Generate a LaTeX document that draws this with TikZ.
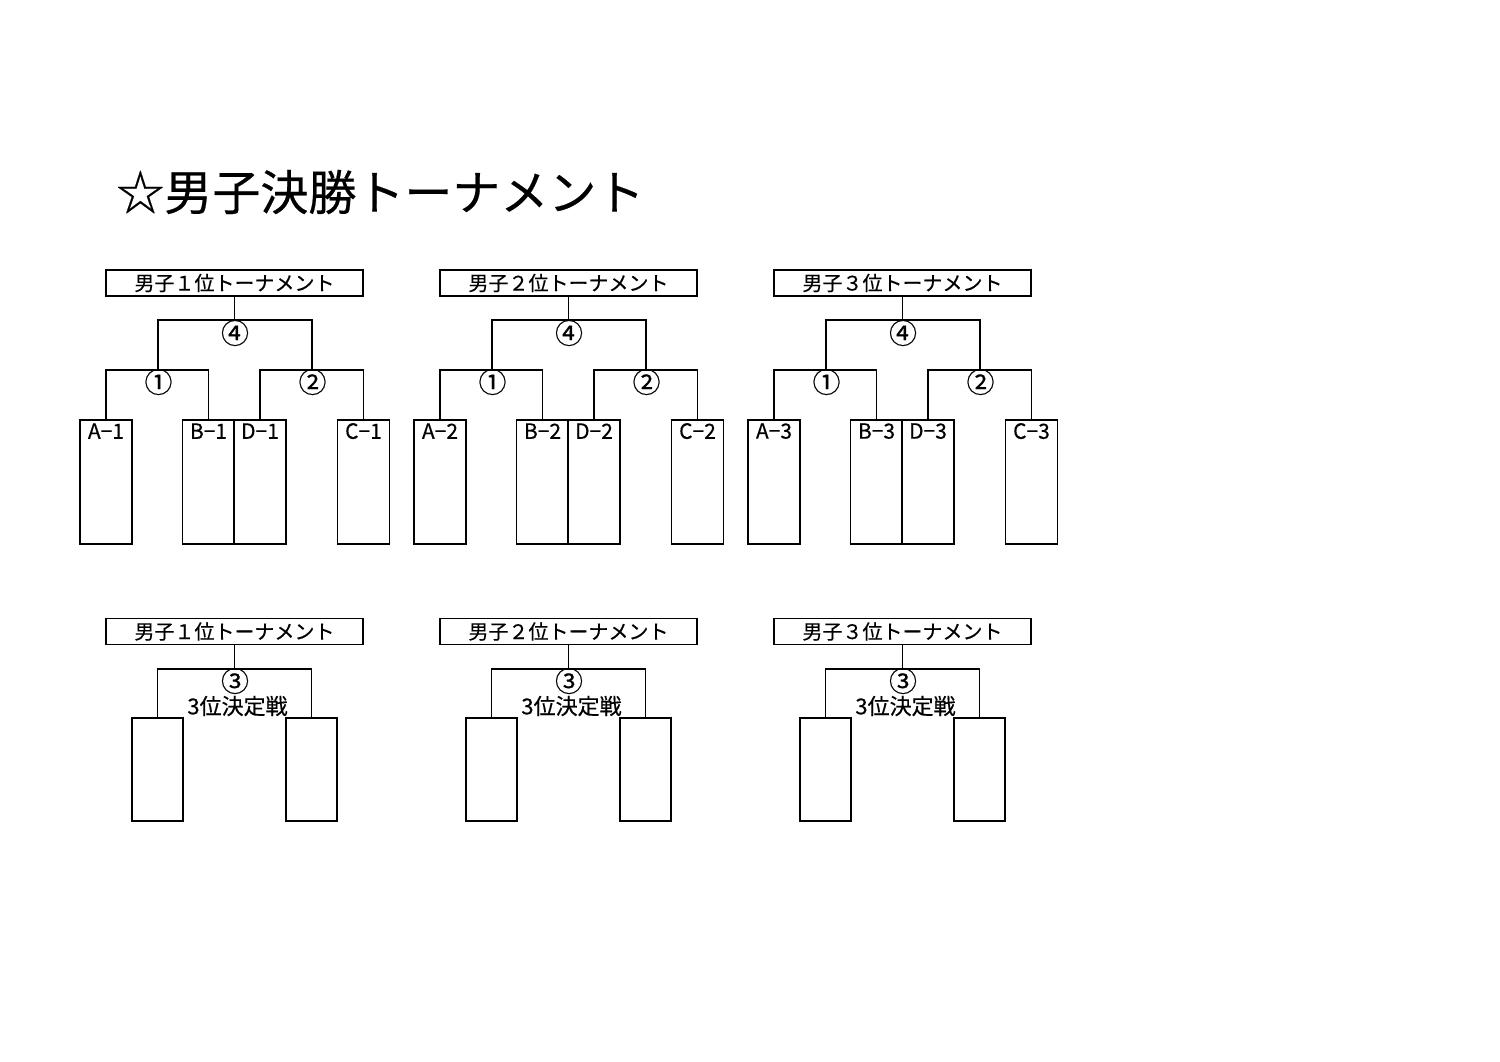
\documentclass[tikz,border=0pt]{standalone}
\usepackage{fontspec}
\newfontfamily\jp[FakeBold=0.4]{Noto Sans CJK JP}
\begin{document}
\begin{tikzpicture}[x=0.5pt,y=-0.5pt,
  every node/.style={font=\jp\fontsize{10pt}{12pt}\selectfont, inner sep=0pt},
  hdr/.style={draw, line width=0.9pt, minimum width=128.5pt, minimum height=13pt},
  ebox/.style={draw, line width=0.9pt, minimum width=26pt, minimum height=62pt},
  sbox/.style={draw, line width=0.9pt, minimum width=25.5pt, minimum height=51.5pt},
  conn/.style={line width=0.8pt},
  lbl/.style={font=\jp\fontsize{10.5pt}{12pt}\selectfont},
  circ/.style={font=\jp\fontsize{14pt}{16pt}\selectfont},
  third/.style={font=\jp\fontsize{11pt}{13pt}\selectfont},
  titlefont/.style={font=\jp\fontsize{24pt}{28pt}\selectfont}]
\useasboundingbox (0,0) rectangle (1500,1061);
\fill[white] (0,0) rectangle (1500,1061);
\node[titlefont, anchor=west] (title) at (116,192) {☆男子決勝トーナメント};
\foreach \i/\w in {1/１,2/２,3/３} {
  \pgfmathsetmacro{\dx}{(\i-1)*334}
  % upper tournament
  \node[hdr] (h\i) at (234.5+\dx,283) {男子{\w}位トーナメント};
  \node[ebox] (a\i) at (106+\dx,482) {};
  \node[ebox] (b\i) at (208.5+\dx,482) {};
  \node[ebox] (d\i) at (260+\dx,482) {};
  \node[ebox] (c\i) at (363.5+\dx,482) {};
  \node[lbl] (la\i) at ([yshift=-6pt]a\i.north) {A−\i};
  \node[lbl] (lb\i) at ([yshift=-6pt]b\i.north) {B−\i};
  \node[lbl] (ld\i) at ([yshift=-6pt]d\i.north) {D−\i};
  \node[lbl] (lc\i) at ([yshift=-6pt]c\i.north) {C−\i};
  \coordinate (j1\i) at (158+\dx,370);
  \coordinate (j2\i) at (312+\dx,370);
  \coordinate (j4\i) at (234.5+\dx,320);
  \draw[conn] (a\i.north) |- (j1\i) -| (b\i.north);
  \draw[conn] (d\i.north) |- (j2\i) -| (c\i.north);
  \draw[conn] (j1\i) |- (j4\i) -| (j2\i);
  \draw[conn] (j4\i) -- (h\i.south);
  \node[circ] (n1\i) at (158.5+\dx,382) {①};
  \node[circ] (n2\i) at (312.5+\dx,382) {②};
  \node[circ] (n4\i) at (235+\dx,333) {④};
  % lower third-place match
  \node[hdr] (g\i) at (234.5+\dx,631.5) {男子{\w}位トーナメント};
  \node[sbox] (p\i) at (157.5+\dx,769.5) {};
  \node[sbox] (q\i) at (311.5+\dx,769.5) {};
  \coordinate (k\i) at (234.5+\dx,669);
  \draw[conn] (p\i.north) |- (k\i) -| (q\i.north);
  \draw[conn] (k\i) -- (g\i.south);
  \node[circ] (n3\i) at (235+\dx,681) {③};
  \node[third] (t3\i) at (237.5+\dx,706) {3位決定戦};
}
\end{tikzpicture}
\end{document}
